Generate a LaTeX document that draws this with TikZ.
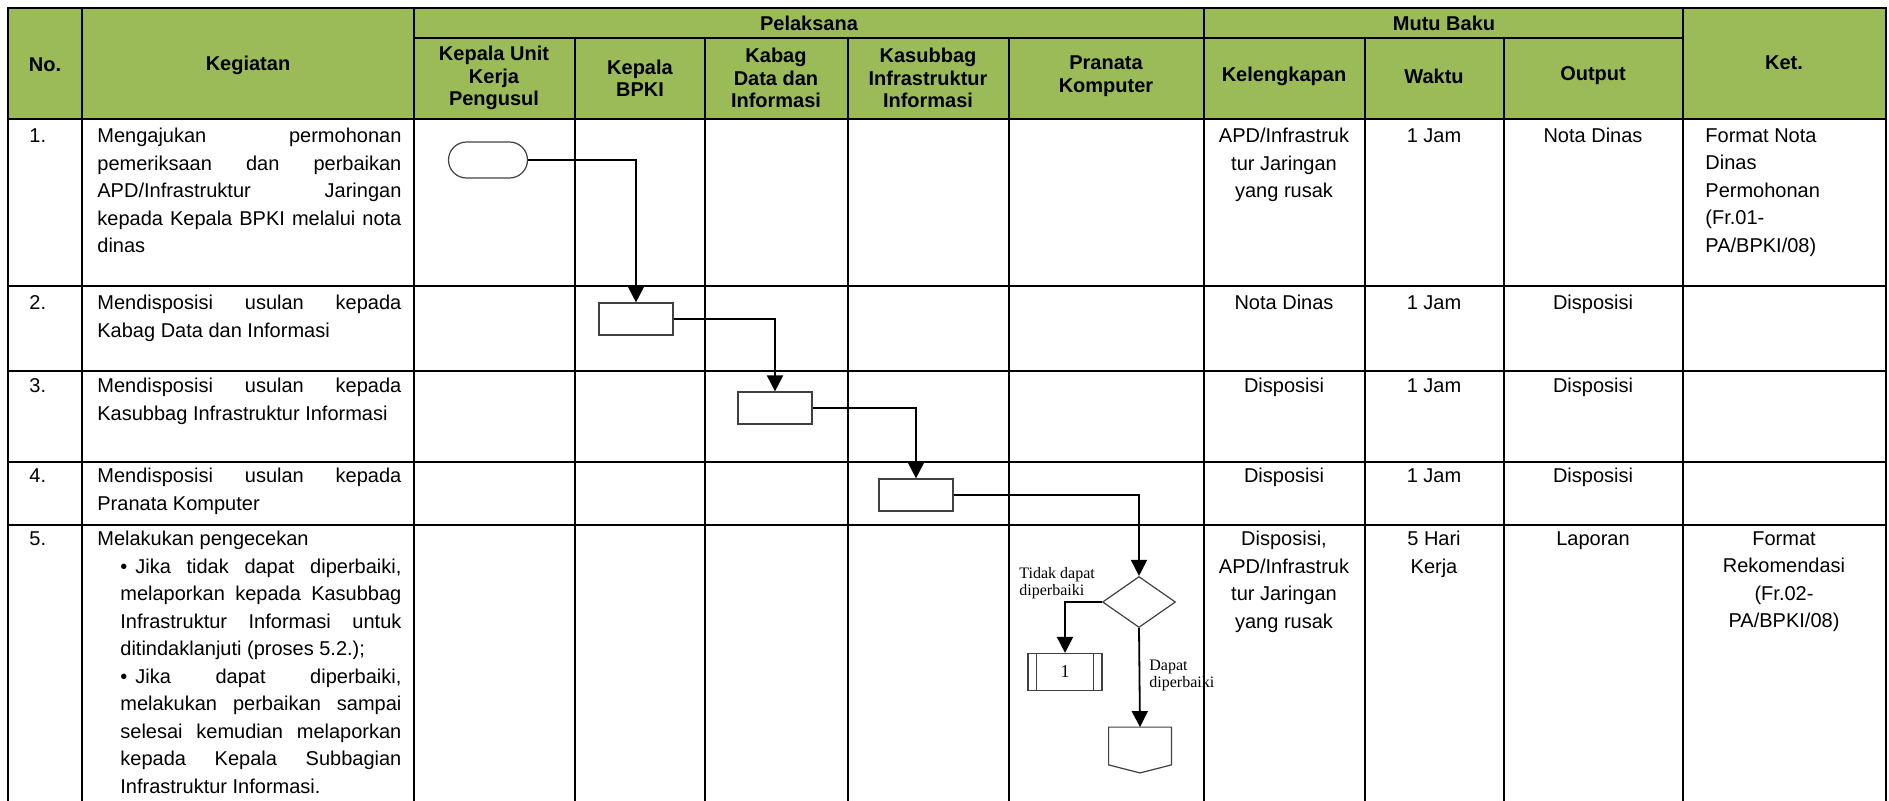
\documentclass[tikz,border=0pt]{standalone}
\usepackage{fontspec}
\setmainfont{Liberation Sans}
\newfontfamily\serifflow{Liberation Serif}
\usetikzlibrary{arrows.meta,shapes.geometric}
\definecolor{hdrgreen}{RGB}{155,187,89}
\definecolor{shapegray}{RGB}{64,64,64}
\tolerance=10000
\hyphenpenalty=10000

\tikzset{
  gridline/.style={line width=1.4pt, line cap=rect},
  hdr/.style={font=\bfseries\fontsize{10}{11.25}\selectfont, align=center, inner sep=0pt},
  cell/.style={font=\fontsize{10}{13.75}\selectfont, align=center, anchor=north, inner sep=0pt},
  kegiatan/.style={font=\fontsize{10}{13.75}\selectfont, align=justify, text width=152pt, anchor=north west, inner sep=0pt},
  proc/.style={draw=shapegray, line width=0.6pt, minimum width=37pt, minimum height=16pt, inner sep=0pt},
  flowarrow/.style={line width=0.9pt, -{Triangle[width=8pt,length=8pt]}},
  flowlabel/.style={font=\serifflow\fontsize{8}{8.5}\selectfont, align=left, anchor=north west, inner sep=0pt}
}

\begin{document}
\begin{tikzpicture}[x=0.5pt, y=-0.5pt]
  \useasboundingbox (0,0) rectangle (1889,800);
  % header background
  \fill[hdrgreen] (8,8) rectangle (1886,119);
  % flow shapes
  \node[proc, rounded corners=9pt, minimum width=39.5pt, minimum height=18pt] (start) at (488,160) {};
  \node[proc] (disp1) at (636,319) {};
  \node[proc] (disp2) at (775,408) {};
  \node[proc] (disp3) at (916,495) {};
  \node[proc, diamond, minimum width=36.5pt, minimum height=25.5pt] (cek) at (1139,602) {};
  \node[proc, minimum height=18.5pt, font=\serifflow\fontsize{9}{9}\selectfont] (sub) at (1065,672) {1};
  \draw[shapegray, line width=0.6pt]
    ([xshift=4.5pt]sub.north west) -- ([xshift=4.5pt]sub.south west)
    ([xshift=-4.5pt]sub.north east) -- ([xshift=-4.5pt]sub.south east);
  \node[minimum width=31pt, minimum height=22.5pt, inner sep=0pt] (lanjut) at (1140,750) {};
  \draw[shapegray, line width=0.6pt] (lanjut.north west) -- (lanjut.north east)
    -- ([yshift=4pt]lanjut.south east) -- (lanjut.south)
    -- ([yshift=4pt]lanjut.south west) -- cycle;
  % table lines
  \foreach \y in {8,119,286,371,462,525}
    \draw[gridline] (8,\y) -- (1886,\y);
  \draw[gridline] (414,38) -- (1683,38);
  \foreach \x in {8,82,414,1204,1683,1886}
    \draw[gridline] (\x,8) -- (\x,800);
  \foreach \x in {575,705,848,1009,1365,1504}
    \draw[gridline] (\x,38) -- (\x,800);
  % connectors
  \draw[flowarrow] (start.east) -| (disp1.north);
  \draw[flowarrow] (disp1.east) -| (disp2.north);
  \draw[flowarrow] (disp2.east) -| (disp3.north);
  \draw[flowarrow] (disp3.east) -| (cek.north);
  \draw[flowarrow] (cek.west) -| (sub.north);
  \draw[flowarrow] (cek.south) -- (lanjut.north);
  \node[flowlabel] (ltidak) at (1019,567) {Tidak dapat\\diperbaiki};
  \node[flowlabel] (ldapat) at (1149,660) {Dapat\\diperbaiki};
  % header text
  \node[hdr] (hno) at (45,65) {No.};
  \node[hdr] (hkeg) at (248,65) {Kegiatan};
  \node[hdr] (hpel) at (809,23) {Pelaksana};
  \node[hdr] (hmutu) at (1444,23) {Mutu Baku};
  \node[hdr] (hket) at (1784,63) {Ket.};
  \node[hdr] (hkukp) at (494,78) {Kepala Unit\\Kerja\\Pengusul};
  \node[hdr] (hbpki) at (640,78) {Kepala\\BPKI};
  \node[hdr] (hkabag) at (776,78) {Kabag\\Data dan\\Informasi};
  \node[hdr] (hkasub) at (928,78) {Kasubbag\\Infrastruktur\\Informasi};
  \node[hdr] (hpran) at (1106,76) {Pranata\\Komputer};
  \node[hdr] (hleng) at (1284,76) {Kelengkapan};
  \node[hdr] (hwaktu) at (1434,76) {Waktu};
  \node[hdr] (hout) at (1593,76) {Output};
  % nomor
  \foreach \n/\y in {1/128,2/295,3/378,4/468,5/531}
    \node[cell, anchor=north west] (no\n) at (29,\y) {\n.};
  % kegiatan
  \node[kegiatan] (keg1) at (97,128) {Mengajukan permohonan\linebreak
    pemeriksaan dan perbaikan\linebreak APD/Infrastruktur Jaringan\linebreak
    kepada Kepala BPKI melalui nota\linebreak dinas};
  \node[kegiatan] (keg2) at (97,295) {Mendisposisi usulan kepada\linebreak Kabag Data dan Informasi};
  \node[kegiatan] (keg3) at (97,378) {Mendisposisi usulan kepada\linebreak Kasubbag Infrastruktur Informasi};
  \node[kegiatan] (keg4) at (97,468) {Mendisposisi usulan kepada\linebreak Pranata Komputer};
  \node[kegiatan] (keg5) at (97,531) {Melakukan pengecekan\par
    {\leftskip=11.5pt
    \textbullet\hspace{4pt}Jika tidak dapat diperbaiki,\linebreak melaporkan kepada Kasubbag\linebreak
    Infrastruktur Informasi untuk\linebreak ditindaklanjuti (proses 5.2.);\par
    \textbullet\hspace{4pt}Jika dapat diperbaiki,\linebreak melakukan perbaikan sampai\linebreak
    selesai kemudian melaporkan\linebreak kepada Kepala Subbagian\linebreak
    Infrastruktur Informasi.\par}};
  % kelengkapan
  \node[cell] (leng1) at (1284,128) {APD/Infrastruk\\tur Jaringan\\yang rusak};
  \node[cell] (leng2) at (1284,295) {Nota Dinas};
  \node[cell] (leng3) at (1284,378) {Disposisi};
  \node[cell] (leng4) at (1284,468) {Disposisi};
  \node[cell] (leng5) at (1284,531) {Disposisi,\\APD/Infrastruk\\tur Jaringan\\yang rusak};
  % waktu
  \foreach \n/\y in {1/128,2/295,3/378,4/468}
    \node[cell] (waktu\n) at (1434,\y) {1 Jam};
  \node[cell] (waktu5) at (1434,531) {5 Hari\\Kerja};
  % output
  \node[cell] (out1) at (1593,128) {Nota Dinas};
  \foreach \n/\y in {2/295,3/378,4/468}
    \node[cell] (out\n) at (1593,\y) {Disposisi};
  \node[cell] (out5) at (1593,531) {Laporan};
  % ket
  \node[cell, anchor=north west, align=left] (ket1) at (1705,128)
    {Format Nota\\Dinas\\Permohonan\\(Fr.01-\\PA/BPKI/08)};
  \node[cell] (ket5) at (1784,531) {Format\\Rekomendasi\\(Fr.02-\\PA/BPKI/08)};
\end{tikzpicture}
\end{document}
